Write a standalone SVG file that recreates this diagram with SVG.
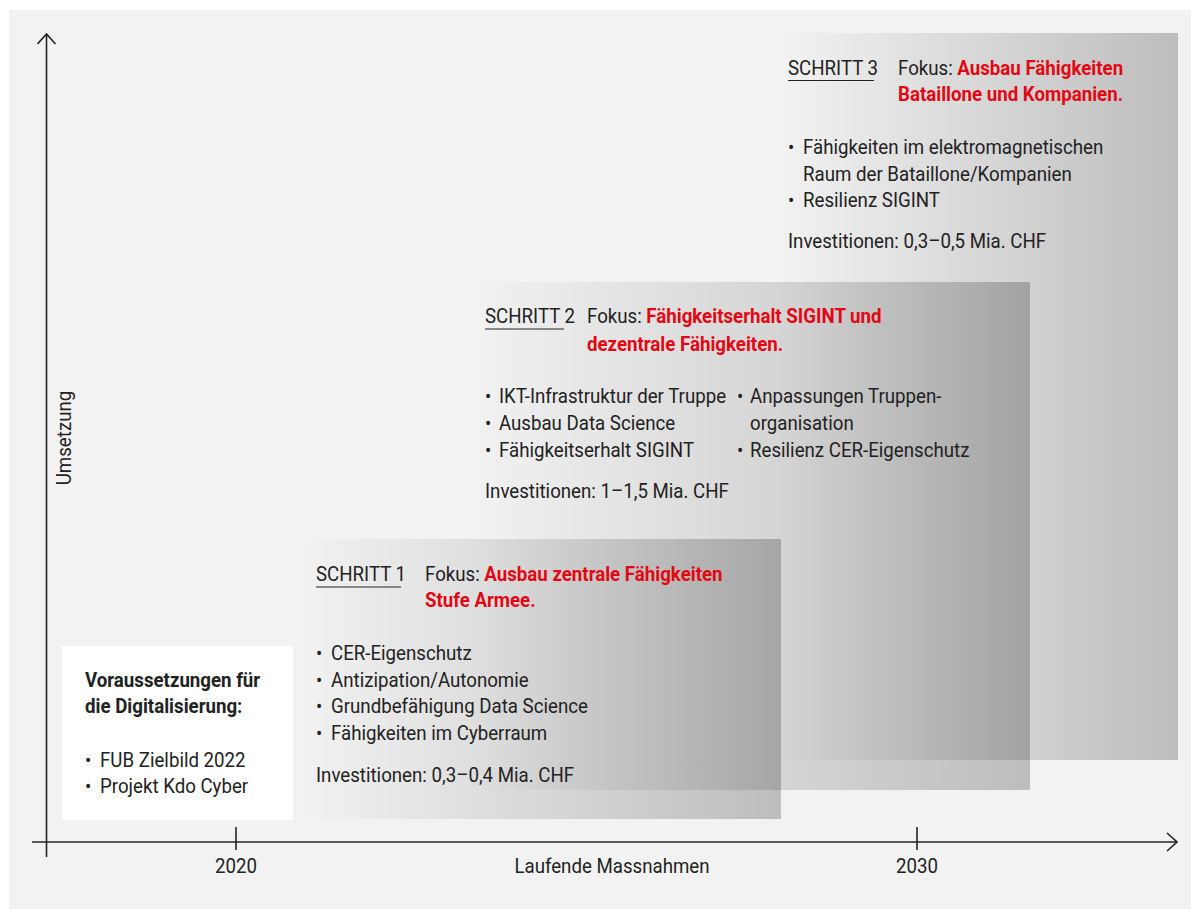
<svg xmlns="http://www.w3.org/2000/svg" width="1191" height="909" viewBox="0 0 1191 909">
<defs>
<linearGradient id="g" x1="0" y1="0" x2="1" y2="0">
<stop offset="0" stop-color="#000" stop-opacity="0"/>
<stop offset="1" stop-color="#000" stop-opacity="0.22"/>
</linearGradient>
<marker id="arr" viewBox="0 0 12 20" refX="11" refY="10" markerWidth="12" markerHeight="20" markerUnits="userSpaceOnUse" orient="auto">
<path d="M1,1 L11,10 L1,19" fill="none" stroke="#222" stroke-width="1.6"/>
</marker>
</defs>
<style>
text{font-family:Roboto,"Liberation Sans",sans-serif;font-size:21px;fill:#222}
.r{fill:#e30613;font-weight:bold}
.b{font-weight:bold}
.ax{stroke:#222;stroke-width:1.6;fill:none}
.u{stroke:#222;stroke-width:1.2}
</style>
<rect x="9" y="10" width="1182" height="899" fill="#f2f2f2"/>
<g id="step3">
<rect x="780" y="33" width="398" height="727" fill="url(#g)"/>
<text transform="translate(788 75) scale(.89 1)">SCHRITT 3</text>
<line class="u" x1="788" y1="80.5" x2="874" y2="80.5"/>
<text transform="translate(898 75) scale(.89 1)">Fokus: <tspan class="r">Ausbau Fähigkeiten</tspan></text>
<text transform="translate(898 101) scale(.89 1)" class="r">Bataillone und Kompanien.</text>
<text transform="translate(788 154) scale(.89 1)">•<tspan x="16.9">Fähigkeiten im elektromagnetischen</tspan></text>
<text transform="translate(803 181) scale(.89 1)">Raum der Bataillone/Kompanien</text>
<text transform="translate(788 207) scale(.89 1)">•<tspan x="16.9">Resilienz SIGINT</tspan></text>
<text transform="translate(788 248) scale(.89 1)">Investitionen: 0,3–0,5 Mia. CHF</text>
</g>
<g id="step2">
<rect x="470" y="282" width="560" height="508" fill="url(#g)"/>
<text transform="translate(485 323) scale(.89 1)">SCHRITT 2</text>
<line class="u" x1="485" y1="329" x2="564" y2="329"/>
<text transform="translate(587 323) scale(.89 1)">Fokus: <tspan class="r">Fähigkeitserhalt SIGINT und</tspan></text>
<text transform="translate(587 351) scale(.89 1)" class="r">dezentrale Fähigkeiten.</text>
<text transform="translate(485 403) scale(.89 1)">•<tspan x="15.7">IKT-Infrastruktur der Truppe</tspan></text>
<text transform="translate(485 430) scale(.89 1)">•<tspan x="15.7">Ausbau Data Science</tspan></text>
<text transform="translate(485 457) scale(.89 1)">•<tspan x="15.7">Fähigkeitserhalt SIGINT</tspan></text>
<text transform="translate(737 403) scale(.89 1)">•<tspan x="14.6">Anpassungen Truppen-</tspan></text>
<text transform="translate(750 430) scale(.89 1)">organisation</text>
<text transform="translate(737 457) scale(.89 1)">•<tspan x="14.6">Resilienz CER-Eigenschutz</tspan></text>
<text transform="translate(485 498) scale(.89 1)">Investitionen: 1–1,5 Mia. CHF</text>
</g>
<g id="step1">
<rect x="300" y="539" width="481" height="280" fill="url(#g)"/>
<text transform="translate(316 581) scale(.89 1)">SCHRITT 1</text>
<line class="u" x1="316" y1="587" x2="401" y2="587"/>
<text transform="translate(425 581) scale(.89 1)">Fokus: <tspan class="r">Ausbau zentrale Fähigkeiten</tspan></text>
<text transform="translate(425 607) scale(.89 1)" class="r">Stufe Armee.</text>
<text transform="translate(316 660) scale(.89 1)">•<tspan x="16.9">CER-Eigenschutz</tspan></text>
<text transform="translate(316 687) scale(.89 1)">•<tspan x="16.9">Antizipation/Autonomie</tspan></text>
<text transform="translate(316 713) scale(.89 1)">•<tspan x="16.9">Grundbefähigung Data Science</tspan></text>
<text transform="translate(316 740) scale(.89 1)">•<tspan x="16.9">Fähigkeiten im Cyberraum</tspan></text>
<text transform="translate(316 782) scale(.89 1)">Investitionen: 0,3–0,4 Mia. CHF</text>
</g>
<g id="prereq">
<rect x="62" y="646" width="231" height="174" fill="#fff"/>
<text transform="translate(85 687) scale(.89 1)" class="b">Voraussetzungen für</text>
<text transform="translate(85 713) scale(.89 1)" class="b">die Digitalisierung:</text>
<text transform="translate(85 767) scale(.89 1)">•<tspan x="16.9">FUB Zielbild 2022</tspan></text>
<text transform="translate(85 793) scale(.89 1)">•<tspan x="16.9">Projekt Kdo Cyber</tspan></text>
</g>
<g id="connectors">
<line class="ax" x1="46.5" y1="857" x2="46.5" y2="34" marker-end="url(#arr)"/>
<line class="ax" x1="32" y1="842" x2="1177" y2="842" marker-end="url(#arr)"/>
<line class="ax" x1="236" y1="827" x2="236" y2="850"/>
<line class="ax" x1="917" y1="827" x2="917" y2="850"/>
</g>
<g id="labels">
<text transform="translate(236 873) scale(.89 1)" text-anchor="middle">2020</text>
<text transform="translate(917 873) scale(.89 1)" text-anchor="middle">2030</text>
<text transform="translate(612 873) scale(.89 1)" text-anchor="middle">Laufende Massnahmen</text>
<text transform="translate(71 438) rotate(-90) scale(.89 1)" text-anchor="middle">Umsetzung</text>
</g>
</svg>
